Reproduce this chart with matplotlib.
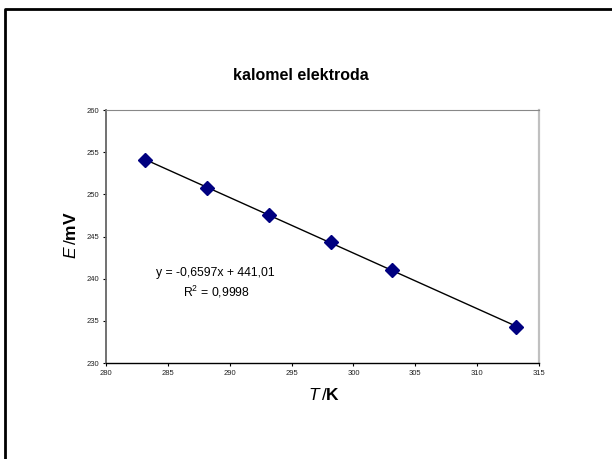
import matplotlib.pyplot as plt
import numpy as np
from matplotlib.lines import Line2D

plt.rcParams["font.family"] = ["Liberation Sans", "DejaVu Sans"]
plt.rcParams["mathtext.fontset"] = "custom"
plt.rcParams["mathtext.rm"] = "Liberation Sans"
plt.rcParams["mathtext.it"] = "Liberation Sans:italic"
plt.rcParams["mathtext.bf"] = "Liberation Sans:bold"

# temperatura / K i potencijal / mV
temperature = [283.15, 288.15, 293.15, 298.15, 303.15, 313.15]
potential = [254.1, 250.8, 247.6, 244.3, 241.0, 234.3]

x_ticks = [280, 285, 290, 295, 300, 305, 310, 315]
y_ticks = [230, 235, 240, 245, 250, 255, 260]

W, H = 612, 459


def px(x, y):
    return x / W, 1 - y / H


def main():
    fig = plt.figure(figsize=(6.12, 4.59), dpi=100)
    ax = fig.add_axes([106 / W, 1 - 363 / H, 433 / W, 253 / H])

    # linearni trend
    k, n = np.polyfit(temperature, potential, 1)
    xs = np.array([temperature[0], temperature[-1]])
    ax.plot(xs, k * xs + n, color="black", lw=1.0, zorder=2)

    ax.plot(temperature, potential, linestyle="none", marker="D",
            markersize=7.5, color="#000080", markeredgecolor="#000080",
            zorder=3, clip_on=False)

    ax.set_xlim(280, 315)
    ax.set_ylim(230, 260)
    ax.set_xticks(x_ticks)
    ax.set_yticks(y_ticks)
    ax.tick_params(direction="out", length=2, width=0.8, labelsize=5.5,
                   pad=3, labelcolor="#222222")

    ax.spines["top"].set_color("#888888")
    ax.spines["right"].set_color("#c0c0c0")
    ax.spines["right"].set_linewidth(1.6)
    ax.spines["left"].set_color("#666666")
    ax.spines["left"].set_linewidth(1.3)
    ax.spines["bottom"].set_color("black")
    ax.spines["bottom"].set_linewidth(1.0)

    fig.text(*px(215, 273), "y = -0,6597x + 441,01", ha="center",
             va="center", fontsize=8.8)
    fig.text(*px(216, 292), "R$^2$ = 0,9998", ha="center", va="center",
             fontsize=8.8)

    fig.text(*px(301, 76), "kalomel elektroda", ha="center", va="center",
             fontsize=11.5, fontweight="bold")
    fig.text(*px(324, 395), r"$\mathit{T}\,$/$\mathbf{K}$", ha="center",
             va="center", fontsize=12.5)
    fig.text(*px(71, 235), r"$\mathit{E}\,$/$\mathbf{mV}$", ha="center",
             va="center", fontsize=12.5, rotation=90)

    # okvir grafikona
    fig.add_artist(Line2D([5 / W, 5 / W, 1.0], [0.0, 1 - 9 / H, 1 - 9 / H],
                          transform=fig.transFigure, color="black", lw=2.0))

    fig.savefig("out.png", dpi=100)


if __name__ == "__main__":
    main()
